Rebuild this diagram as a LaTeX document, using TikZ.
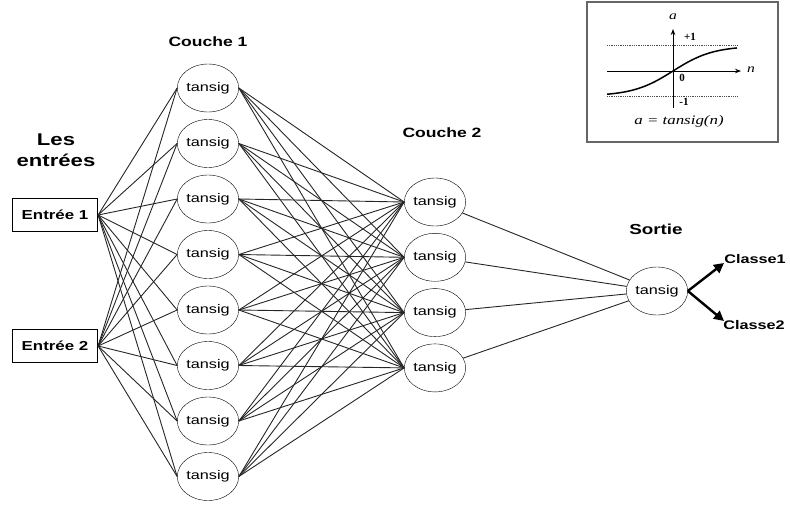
\documentclass[tikz,border=0pt]{standalone}
\usepackage{fontspec}
\setmainfont{Liberation Sans}
\newfontfamily\serif{Liberation Serif}
\usetikzlibrary{shapes.geometric, positioning, arrows.meta}

\newcommand{\etirer}[1]{\scalebox{1.3}[1]{#1}}

\tikzset{
  neurone/.style={draw, ellipse, minimum width=60pt, minimum height=48pt, inner sep=0pt,
    font=\fontsize{12.5}{13}\selectfont},
  entree/.style={draw, line width=1.2pt, minimum width=85pt, minimum height=33pt, inner sep=1pt,
    font=\bfseries\fontsize{13}{14}\selectfont},
  titre/.style={font=\bfseries\fontsize{13.5}{15}\selectfont},
  lien/.style={draw=black!85, line width=0.9pt},
  fleche/.style={-{Triangle[length=10pt,width=10pt]}, line width=2.4pt},
  petit/.style={font=\serif\fontsize{10}{11}\selectfont},
}

\begin{document}
\begin{tikzpicture}[x=1pt, y=-1pt]
    \useasboundingbox (0,0) rectangle (790,506);

    % 输入
    \node[entree] (e1) at (55,215) {\etirer{Entrée 1}};
    \node[entree] (e2) at (55,346) {\etirer{Entrée 2}};
    \node[font=\bfseries\fontsize{17}{21}\selectfont] (tin) at (56,152)
        {\etirer{\begin{tabular}{@{}c@{}}Les\\entrées\end{tabular}}};

    % 第一层
    \node[titre] (t1) at (208,42) {\etirer{Couche 1}};
    \foreach \i in {1,...,8}
        \node[neurone] (c\i) at (208,{88+55.5*(\i-1)}) {\etirer{tansig}};

    % 第二层
    \node[titre] (t2) at (442,133) {\etirer{Couche 2}};
    \foreach \j in {1,...,4}
        \node[neurone] (d\j) at (435,{202+55.3*(\j-1)}) {\etirer{tansig}};

    % 输出
    \node[titre, font=\bfseries\fontsize{14.5}{16}\selectfont] (ts) at (656,229) {\etirer{Sortie}};
    \node[neurone] (s) at (657,291) {\etirer{tansig}};

    % 连线
    \foreach \i in {1,...,8} {
        \draw[lien] (e1.east) -- (c\i.west);
        \draw[lien] (e2.east) -- (c\i.west);
        \foreach \j in {1,...,4}
            \draw[lien] (c\i.east) -- (d\j.west);
    }
    \foreach \j in {1,...,4}
        \draw[lien] (d\j) -- (s);

    % 类别
    \coordinate (k1) at (724,263);
    \coordinate (k2) at (724,321);
    \draw[fleche] (s.east) -- (k1);
    \draw[fleche] (s.east) -- (k2);
    \node[titre, font=\bfseries\fontsize{12.5}{14}\selectfont] (cl1) at (755,259) {\etirer{Classe1}};
    \node[titre, font=\bfseries\fontsize{12.5}{14}\selectfont] (cl2) at (754,325) {\etirer{Classe2}};

    % 小图 tansig
    \draw[line width=1.6pt, black!60] (587,2) rectangle (778,142);
    \draw[densely dotted, black!70, line width=0.8pt] (607,45) -- (738,45);
    \draw[densely dotted, black!70, line width=0.8pt] (607,96) -- (738,96);
    \draw[-{Stealth[length=6pt]}, line width=0.8pt] (607,71) -- (741,71);
    \draw[-{Stealth[length=6pt]}, line width=0.8pt] (673,108) -- (673,29);
    \draw[line width=1.5pt] plot[domain=-66:64, samples=60] ({673+\x},{71-25*tanh(\x/40)});
    \node[petit, font=\serif\itshape\fontsize{12}{13}\selectfont] (la) at (673,17) {\etirer{a}};
    \node[petit, font=\serif\itshape\fontsize{12}{13}\selectfont] (ln) at (751,70) {\etirer{n}};
    \node[petit, font=\serif\bfseries\fontsize{11}{12}\selectfont] (lp) at (690,37) {+1};
    \node[petit, font=\serif\bfseries\fontsize{11}{12}\selectfont] (l0) at (682,78) {0};
    \node[petit, font=\serif\bfseries\fontsize{11}{12}\selectfont] (lm) at (684,102) {-1};
    \node[petit, font=\serif\itshape\fontsize{13}{14}\selectfont] (cap) at (679,121) {\etirer{a = tansig(n)}};
\end{tikzpicture}
\end{document}
